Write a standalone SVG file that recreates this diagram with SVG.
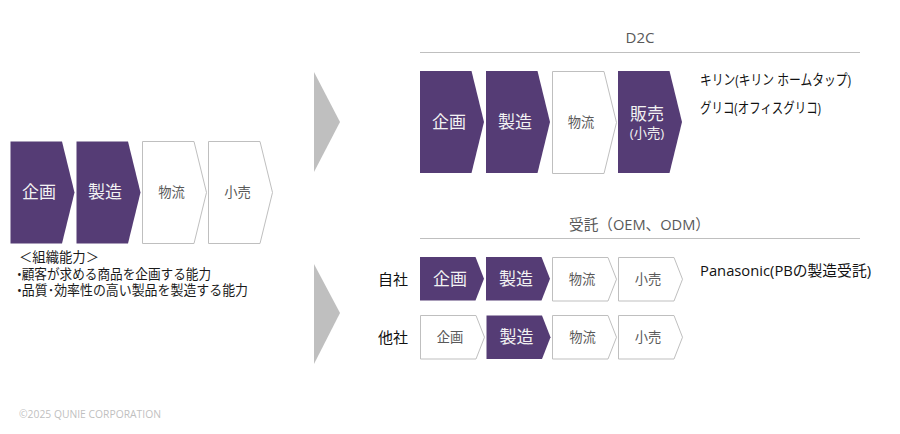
<svg xmlns="http://www.w3.org/2000/svg" width="900" height="434" viewBox="0 0 900 434">
<style>
text{font-family:"Open Sans","Noto Sans CJK JP",sans-serif}
.p{fill:#553c75}
.w{fill:#fff;stroke:#bfbfbf;stroke-width:1}
.tw{fill:#f2f2f2;text-anchor:middle;font-size:17px}
.tg{fill:#595959;text-anchor:middle;font-size:13.300px}
.h{fill:#595959;text-anchor:middle;font-size:15px}
.b{fill:#1a1a1a;font-size:13.300px}
.n{fill:#111;font-size:14.500px}
.a{fill:#bfbfbf}
.r{stroke:#bfbfbf;stroke-width:1;fill:none}
</style>
<defs>
<path id="big" d="M0 0H51.500L64 51 51.500 102H0Z"/>
<path id="small" d="M0 0H55.500L64 21.750 55.500 43.500H0Z"/>
</defs>
<rect width="900" height="434" fill="#fff"/>
<g id="connectors">
<path class="a" d="M314 72L340 122 314 172Z"/>
<path class="a" d="M314 264L340 313 314 364Z"/>
<path class="r" d="M420 52.500H860"/>
<path class="r" d="M420 238.500H860"/>
</g>
<g id="base-kikaku"><use href="#big" x="10.500" y="141.500" class="p"/><text class="tw" x="39" y="198">企画</text></g>
<g id="base-seizo"><use href="#big" x="76.500" y="141.500" class="p"/><text class="tw" x="105" y="198">製造</text></g>
<g id="base-butsuryu"><use href="#big" x="142.500" y="141.500" class="w"/><text class="tg" x="171.500" y="197">物流</text></g>
<g id="base-kouri"><use href="#big" x="208.500" y="141.500" class="w"/><text class="tg" x="237.500" y="197">小売</text></g>
<g id="base-note">
<text class="b" x="19" y="261.500" textLength="80" lengthAdjust="spacingAndGlyphs">＜組織能力＞</text>
<text class="b" x="17" y="278.500" textLength="194" lengthAdjust="spacingAndGlyphs">•顧客が求める商品を企画する能力</text>
<text class="b" x="17" y="295" textLength="231" lengthAdjust="spacingAndGlyphs">•品質･効率性の高い製品を製造する能力</text>
</g>
<g id="d2c-title"><text class="h" x="640" y="43">D2C</text></g>
<g id="d2c-kikaku"><use href="#big" x="420" y="71" class="p"/><text class="tw" x="449" y="128">企画</text></g>
<g id="d2c-seizo"><use href="#big" x="486" y="71" class="p"/><text class="tw" x="515" y="128">製造</text></g>
<g id="d2c-butsuryu"><use href="#big" x="552.500" y="71.500" class="w"/><text class="tg" x="581" y="127">物流</text></g>
<g id="d2c-hanbai"><use href="#big" x="618" y="71" class="p"/><text class="tw" x="647" y="120">販売</text><text class="tw" style="font-size:13.300px" x="647" y="137.500">(小売)</text></g>
<g id="d2c-note">
<text class="n" x="700" y="84.500" textLength="151" lengthAdjust="spacingAndGlyphs">キリン(キリン ホームタップ)</text>
<text class="n" x="700" y="113" textLength="121" lengthAdjust="spacingAndGlyphs">グリコ(オフィスグリコ)</text>
</g>
<g id="oem-title"><text class="h" x="639.500" y="230" textLength="141" lengthAdjust="spacingAndGlyphs">受託（OEM、ODM）</text></g>
<g id="jisha"><text class="n" style="font-size:15px" x="378" y="285">自社</text></g>
<g id="tasha"><text class="n" style="font-size:15px" x="378" y="342.500">他社</text></g>
<g id="j-kikaku"><use href="#small" x="420" y="257" class="p"/><text class="tw" x="450" y="285">企画</text></g>
<g id="j-seizo"><use href="#small" x="486" y="257" class="p"/><text class="tw" x="516" y="285">製造</text></g>
<g id="j-butsuryu"><use href="#small" x="552.500" y="257.500" class="w"/><text class="tg" x="582" y="284">物流</text></g>
<g id="j-kouri"><use href="#small" x="618.500" y="257.500" class="w"/><text class="tg" x="648" y="284">小売</text></g>
<g id="t-kikaku"><use href="#small" x="420.500" y="315.500" class="w"/><text class="tg" x="450" y="342">企画</text></g>
<g id="t-seizo"><use href="#small" x="486.500" y="315.500" class="p"/><text class="tw" x="516.500" y="343">製造</text></g>
<g id="t-butsuryu"><use href="#small" x="552.500" y="315.500" class="w"/><text class="tg" x="582.500" y="342">物流</text></g>
<g id="t-kouri"><use href="#small" x="618.500" y="315.500" class="w"/><text class="tg" x="648" y="342">小売</text></g>
<g id="oem-note"><text class="n" x="700" y="276" textLength="171" lengthAdjust="spacingAndGlyphs">Panasonic(PBの製造受託)</text></g>
<g id="copyright"><text x="19" y="418" textLength="142" lengthAdjust="spacingAndGlyphs" style="font-size:10.500px;fill:#bfbfbf">©2025 QUNIE CORPORATION</text></g>
</svg>
